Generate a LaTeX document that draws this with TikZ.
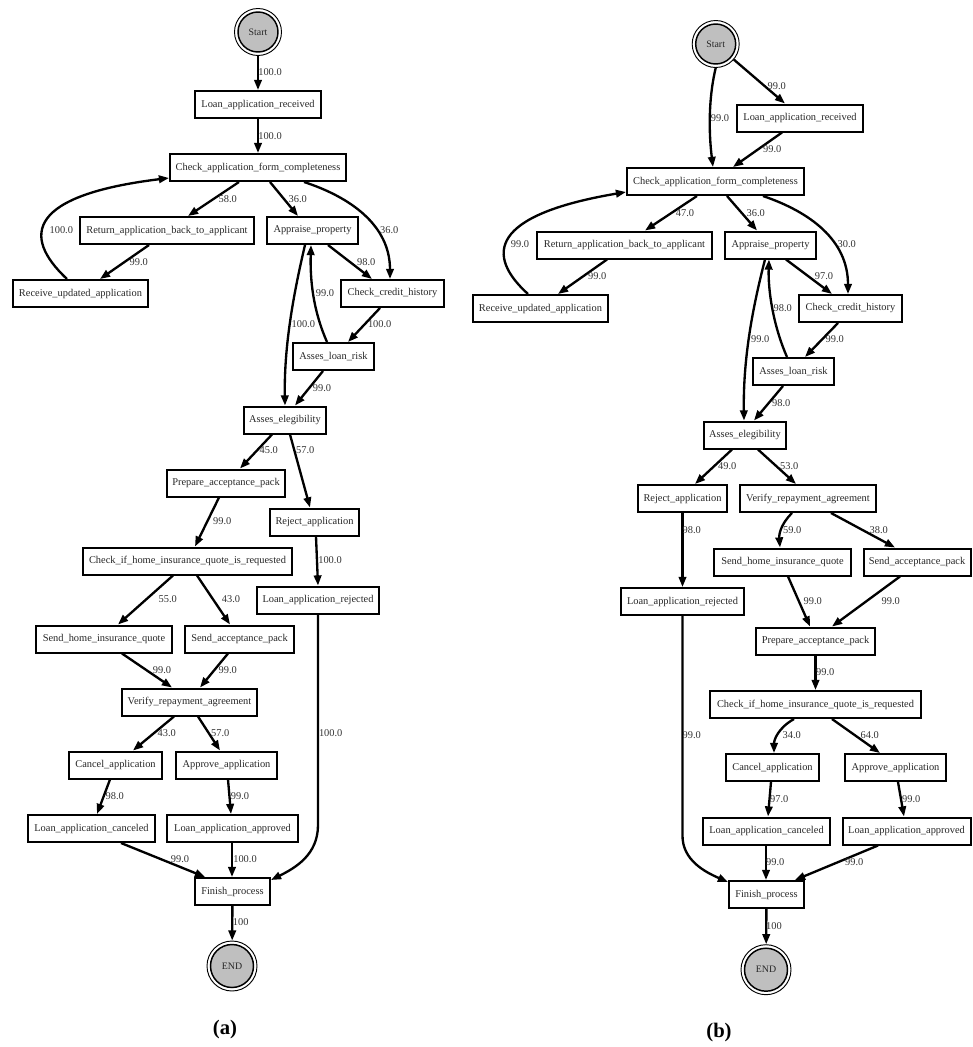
\documentclass[tikz,border=0pt]{standalone}
\usepackage{fontspec}
\newfontfamily\gv{Liberation Serif}
\usetikzlibrary{arrows.meta}
\tikzset{
  box/.style={draw, rectangle, line width=1.5pt, minimum height=27*0.75pt, inner sep=0pt,
    font=\gv\fontsize{7.8}{9}\selectfont, text=black!85},
  bw/.style={minimum width=#1*0.75pt},
  lab/.style={font=\gv\fontsize{7.8}{9}\selectfont, text=black!80, inner sep=0pt},
  edge/.style={line width=1.75pt, -{Triangle[length=7.6pt,width=5.6pt]}},
  outerc/.style={circle, draw, line width=0.7pt, minimum size=#1*0.75pt, inner sep=0pt},
  innerc/.style={circle, draw, line width=1.1pt, fill=black!25, minimum size=#1*0.75pt, inner sep=0pt,
    font=\gv\fontsize{7.4}{9}\selectfont, text=black!85},
  capt/.style={font=\gv\bfseries\fontsize{15.5}{18}\selectfont, inner sep=0pt}
}
\begin{document}
\begin{tikzpicture}[x=0.75pt,y=-0.75pt]
\useasboundingbox (0,0) rectangle (972,1047);
% ================= panel (a) =================
\node[outerc=47] (aS) at (258,32) {};
\node[innerc=40] (aSi) at (258,32) {Start};
\node[box,bw=126] (alr) at (258,104.5) {Loan\_application\_received};
\node[box,bw=176] (acf) at (258,167.5) {Check\_application\_form\_completeness};
\node[box,bw=174] (ara) at (167,230.5) {Return\_application\_back\_to\_applicant};
\node[box,bw=91] (aap) at (312.5,230.5) {Appraise\_property};
\node[box,bw=135] (aru) at (80.5,293.5) {Receive\_updated\_application};
\node[box,bw=103] (acc) at (392.5,293.5) {Check\_credit\_history};
\node[box,bw=81] (alk) at (333.5,356.5) {Asses\_loan\_risk};
\node[box,bw=82] (ael) at (285,420) {Asses\_elegibility};
\node[box,bw=118] (apa) at (226,483) {Prepare\_acceptance\_pack};
\node[box,bw=89] (arj) at (314.5,522) {Reject\_application};
\node[box,bw=209] (aci) at (187.5,561) {Check\_if\_home\_insurance\_quote\_is\_requested};
\node[box,bw=122] (alj) at (318,600) {Loan\_application\_rejected};
\node[box,bw=136] (ash) at (104,639) {Send\_home\_insurance\_quote};
\node[box,bw=109] (asa) at (239.5,639) {Send\_acceptance\_pack};
\node[box,bw=135] (avr) at (189.5,702) {Verify\_repayment\_agreement};
\node[box,bw=93] (aca) at (115.5,765) {Cancel\_application};
\node[box,bw=101] (aaa) at (226.5,765) {Approve\_application};
\node[box,bw=127] (alc) at (91.5,828.5) {Loan\_application\_canceled};
\node[box,bw=131] (ala) at (232.5,828.5) {Loan\_application\_approved};
\node[box,bw=75] (afp) at (232.5,891.5) {Finish\_process};
\node[outerc=50] (aE) at (232,966) {};
\node[innerc=43] (aEi) at (232,966) {END};

\draw[edge] (aS) -- (alr);
\draw[edge] (alr) -- (acf);
\draw[edge] (acf.south -| 239,0) -- (ara.north -| 188,0);
\draw[edge] (acf.south -| 270,0) -- (aap.north -| 298,0);
\draw[edge] (acf.south -| 304,0) .. controls (350,197) and (390,225) .. (acc.north -| 390,0);
\draw[edge] (ara.south -| 149,0) -- (aru.north -| 100,0);
\draw[edge] (aru.north -| 67,0) .. controls (20,235) and (30,195) .. (acf.west |- 0,178);
\draw[edge] (aap.south -| 328,0) -- (acc.north -| 372,0);
\draw[edge] (acc.south -| 380,0) -- (alk.north -| 348,0);
\draw[edge] (alk.north -| 327,0) .. controls (313,310) and (310,280) .. (aap.south -| 311,0);
\draw[edge] (aap.south -| 305,0) .. controls (292,300) and (284,350) .. (ael.north -| 285,0);
\draw[edge] (alk.south -| 323,0) -- (ael.north -| 295,0);
\draw[edge] (ael.south -| 272,0) -- (apa.north -| 240,0);
\draw[edge] (ael.south -| 290,0) -- (arj.north -| 310,0);
\draw[edge] (apa.south -| 219,0) -- (aci.north -| 195,0);
\draw[edge] (arj.south -| 316,0) -- (alj.north -| 318,0);
\draw[edge] (aci.south -| 173,0) -- (ash.north -| 118,0);
\draw[edge] (aci.south -| 197,0) -- (asa.north -| 230,0);
\draw[edge] (ash.south -| 122,0) -- (avr.north -| 172,0);
\draw[edge] (asa.south -| 228,0) -- (avr.north -| 200,0);
\draw[edge] (avr.south -| 174,0) -- (aca.north -| 133,0);
\draw[edge] (avr.south -| 198,0) -- (aaa.north -| 220,0);
\draw[edge] (aca.south -| 110,0) -- (alc.north -| 97,0);
\draw[edge] (aaa.south -| 228,0) -- (ala.north -| 231,0);
\draw[edge] (alc.south -| 121,0) -- (afp.north -| 205,0);
\draw[edge] (ala.south -| 232,0) -- (afp.north -| 232,0);
\draw[edge] (alj.south) -- (alj.south |- 0,825) .. controls (318,855) and (295,868) .. (afp.east |- 0,880);
\draw[edge] (afp) -- (aE);

\node[lab] (la1) at (270,72.3) {100.0};
\node[lab] (la2) at (270,135.7) {100.0};
\node[lab] (la3) at (227.7,198.7) {58.0};
\node[lab] (la4) at (297.7,198.7) {36.0};
\node[lab] (la5) at (389.3,230.3) {36.0};
\node[lab] (la6) at (61.3,230.3) {100.0};
\node[lab] (la7) at (138.7,262) {99.0};
\node[lab] (la8) at (366.3,262) {98.0};
\node[lab] (la9) at (325,293.3) {99.0};
\node[lab] (la10) at (303.3,324) {100.0};
\node[lab] (la11) at (379.7,324) {100.0};
\node[lab] (la12) at (322,387.7) {99.0};
\node[lab] (la13) at (268.7,450.3) {45.0};
\node[lab] (la14) at (305.3,450.3) {57.0};
\node[lab] (la15) at (222.3,521.3) {99.0};
\node[lab] (la16) at (330,560.3) {100.0};
\node[lab] (la17) at (167.7,599.3) {55.0};
\node[lab] (la18) at (231,599.3) {43.0};
\node[lab] (la19) at (162,670.3) {99.0};
\node[lab] (la20) at (227.7,670.3) {99.0};
\node[lab] (la21) at (166.7,733.3) {43.0};
\node[lab] (la22) at (220.3,733.3) {57.0};
\node[lab] (la23) at (330.7,733.3) {100.0};
\node[lab] (la24) at (114.7,796.3) {98.0};
\node[lab] (la25) at (240,796.3) {99.0};
\node[lab] (la26) at (180,859.3) {99.0};
\node[lab] (la27) at (245,859.3) {100.0};
\node[lab] (la28) at (240.7,922.3) {100};

\node[capt] (capa) at (225,1030) {(a)};

% ================= panel (b) =================
\node[outerc=47] (bS) at (715.7,44) {};
\node[innerc=40] (bSi) at (715.7,44) {Start};
\node[box,bw=126] (blr) at (800,118) {Loan\_application\_received};
\node[box,bw=177] (bcf) at (715.5,181.5) {Check\_application\_form\_completeness};
\node[box,bw=175] (bra) at (624.5,245) {Return\_application\_back\_to\_applicant};
\node[box,bw=91] (bap) at (770.5,245) {Appraise\_property};
\node[box,bw=135] (bru) at (540.5,308.5) {Receive\_updated\_application};
\node[box,bw=103] (bcc) at (850.5,308.5) {Check\_credit\_history};
\node[box,bw=81] (blk) at (793.5,371.5) {Asses\_loan\_risk};
\node[box,bw=82] (bel) at (745,435) {Asses\_elegibility};
\node[box,bw=89] (brj) at (682.5,498.5) {Reject\_application};
\node[box,bw=136] (bvr) at (808,498.5) {Verify\_repayment\_agreement};
\node[box,bw=137] (bsh) at (782.5,562) {Send\_home\_insurance\_quote};
\node[box,bw=107] (bsa) at (917,562) {Send\_acceptance\_pack};
\node[box,bw=123] (blj) at (682.5,601.5) {Loan\_application\_rejected};
\node[box,bw=119] (bpa) at (815.5,641) {Prepare\_acceptance\_pack};
\node[box,bw=211] (bci) at (815.5,704.5) {Check\_if\_home\_insurance\_quote\_is\_requested};
\node[box,bw=93] (bca) at (772.5,767.5) {Cancel\_application};
\node[box,bw=101] (baa) at (895.5,767.5) {Approve\_application};
\node[box,bw=127] (blc) at (766.5,831) {Loan\_application\_canceled};
\node[box,bw=128] (bla) at (906.5,831) {Loan\_application\_approved};
\node[box,bw=75] (bfp) at (766.5,894.5) {Finish\_process};
\node[outerc=50] (bE) at (766,969.7) {};
\node[innerc=43] (bEi) at (766,969.7) {END};

\draw[edge] (bS.south) .. controls (708,100) and (709,135) .. (bcf.north -| 713,0);
\draw[edge] (bS) -- (blr.north -| 785,0);
\draw[edge] (blr.south -| 782,0) -- (bcf.north -| 733,0);
\draw[edge] (bcf.south -| 697,0) -- (bra.north -| 645,0);
\draw[edge] (bcf.south -| 727,0) -- (bap.north -| 757,0);
\draw[edge] (bcf.south -| 763,0) .. controls (810,212) and (848,240) .. (bcc.north -| 848,0);
\draw[edge] (bra.south -| 607,0) -- (bru.north -| 558,0);
\draw[edge] (bru.north -| 528,0) .. controls (485,255) and (490,215) .. (bcf.west |- 0,192);
\draw[edge] (bap.south -| 786,0) -- (bcc.north -| 832,0);
\draw[edge] (bcc.south -| 838,0) -- (blk.north -| 805,0);
\draw[edge] (blk.north -| 787,0) .. controls (773,325) and (768,290) .. (bap.south -| 769,0);
\draw[edge] (bap.south -| 765,0) .. controls (752,310) and (743,360) .. (bel.north -| 744,0);
\draw[edge] (blk.south -| 783,0) -- (bel.north -| 754,0);
\draw[edge] (bel.south -| 732,0) -- (brj.north -| 695,0);
\draw[edge] (bel.south -| 758,0) -- (bvr.north -| 796,0);
\draw[edge] (brj) -- (blj);
\draw[edge] (bvr.south -| 792,0) .. controls (780,525) and (779,535) .. (bsh.north -| 780,0);
\draw[edge] (bvr.south -| 831,0) -- (bsa.north -| 895,0);
\draw[edge] (bsh.south -| 788,0) -- (bpa.north -| 810,0);
\draw[edge] (bsa.south -| 900,0) -- (bpa.north -| 832,0);
\draw[edge] (bpa) -- (bci);
\draw[edge] (bci.south -| 794,0) .. controls (778,728) and (774,740) .. (bca.north -| 774,0);
\draw[edge] (bci.south -| 832,0) -- (baa.north -| 880,0);
\draw[edge] (bca.south -| 771,0) -- (blc.north -| 768,0);
\draw[edge] (baa.south -| 898,0) -- (bla.north -| 904,0);
\draw[edge] (blc.south -| 766,0) -- (bfp.north -| 766,0);
\draw[edge] (bla.south -| 878,0) -- (bfp.north -| 795,0);
\draw[edge] (blj.south) -- (blj.south |- 0,835) .. controls (682,860) and (705,872) .. (bfp.west |- 0,882);
\draw[edge] (bfp) -- (bE);

\node[lab] (lb1) at (776.7,86.3) {99.0};
\node[lab] (lb2) at (720,117.7) {99.0};
\node[lab] (lb3) at (772.3,149.3) {99.0};
\node[lab] (lb4) at (685,212.7) {47.0};
\node[lab] (lb5) at (755.7,212.7) {36.0};
\node[lab] (lb6) at (846.7,244.3) {30.0};
\node[lab] (lb7) at (520,244.3) {99.0};
\node[lab] (lb8) at (597.3,276) {99.0};
\node[lab] (lb9) at (824,276) {97.0};
\node[lab] (lb10) at (782.7,308) {98.0};
\node[lab] (lb11) at (760.3,339.3) {99.0};
\node[lab] (lb12) at (834.7,339.3) {99.0};
\node[lab] (lb13) at (781.3,402.7) {98.0};
\node[lab] (lb14) at (727.3,466.3) {49.0};
\node[lab] (lb15) at (789.3,466.3) {53.0};
\node[lab] (lb16) at (691.7,529.7) {98.0};
\node[lab] (lb17) at (792.3,529.7) {59.0};
\node[lab] (lb18) at (878.7,529.7) {38.0};
\node[lab] (lb19) at (812.7,601) {99.0};
\node[lab] (lb20) at (890.7,601) {99.0};
\node[lab] (lb21) at (825.3,672.3) {99.0};
\node[lab] (lb22) at (691.7,735.3) {99.0};
\node[lab] (lb23) at (791.7,735.3) {34.0};
\node[lab] (lb24) at (869.7,735.3) {64.0};
\node[lab] (lb25) at (779.3,799) {97.0};
\node[lab] (lb26) at (911.3,799) {99.0};
\node[lab] (lb27) at (775.3,862.3) {99.0};
\node[lab] (lb28) at (854.3,862.3) {99.0};
\node[lab] (lb29) at (774,925.7) {100};

\node[capt] (capb) at (719,1033) {(b)};
\end{tikzpicture}
\end{document}
